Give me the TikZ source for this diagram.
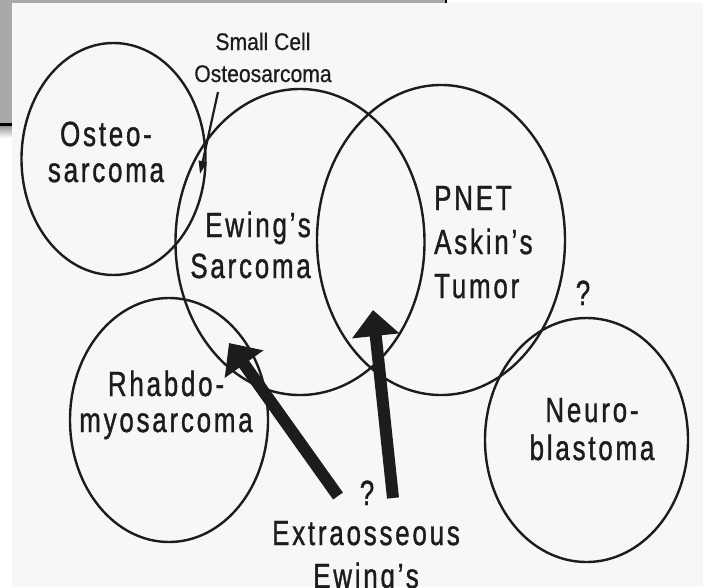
\documentclass[tikz,border=0pt]{standalone}
\usepackage{fontspec}
\usetikzlibrary{shapes.geometric, arrows.meta, positioning}
\newfontfamily\tumourfont{Liberation Sans}[FakeStretch=0.74, LetterSpace=8, FakeBold=1]
\newfontfamily\notefont{Liberation Sans}[FakeStretch=0.88, FakeBold=0.6]
\definecolor{photo}{HTML}{F5F7F8}
\definecolor{slidegray}{HTML}{A9A9A9}
\definecolor{ink}{HTML}{1C1C1C}
\tikzstyle{tumour} = [ellipse, draw=ink, line width=2.4pt, inner sep=0pt]
\tikzstyle{tumourtext} = [font=\tumourfont\fontsize{35}{38}\selectfont, text=ink, inner sep=0pt, anchor=base]
\tikzstyle{notetext} = [font=\notefont\fontsize{24}{32}\selectfont, text=ink, inner sep=0pt, anchor=base, align=center]
\tikzstyle{line} = [draw=ink, line width=12pt, -{Triangle[length=26pt, width=46pt]}]
\tikzstyle{thinline} = [draw=ink, line width=2.2pt, -{Triangle[length=13pt, width=8pt]}]

\begin{document}
\begin{tikzpicture}[x=1pt, y=-1pt]
\useasboundingbox (0,0) rectangle (703,587);
\clip (0,0) rectangle (703,587);

% Slide behind the scan
\fill[white] (0,0) rectangle (703,587);
\fill[slidegray] (0,0) rectangle (447,125);
\draw[black, line width=3pt] (0,124.5) -- (447,124.5);
\draw[black, line width=1.5pt] (446,0) -- (446,125);
\shade[top color=gray!80, bottom color=white] (0,126) rectangle (12,138);
\fill[photo] (12,3) rectangle (703,587);

% Tumours
\node (osteo) [tumour, minimum width=184pt, minimum height=232pt] at (113.5,159) {};
\node (ewing) [tumour, minimum width=249pt, minimum height=306pt] at (300,242) {};
\node (pnet) [tumour, minimum width=248pt, minimum height=310pt] at (441,240) {};
\node (rhabdo) [tumour, minimum width=198pt, minimum height=244pt] at (169,420) {};
\node (neuro) [tumour, minimum width=203pt, minimum height=244pt] at (586.5,440) {};

% Texts (base = last line)
\node (osteotext) [tumourtext, align=center, font=\tumourfont\fontsize{35}{36}\selectfont] at (106,182) {Osteo-\\sarcoma};
\node (smallcell) [notetext] at (263,82) {Small Cell\\Osteosarcoma};
\node (ewingtext) [tumourtext, align=right, anchor=base east, font=\tumourfont\fontsize{35}{41}\selectfont] at (311,278) {Ewing’s\\Sarcoma};
\node (pnettext) [tumourtext, align=left, anchor=base west, font=\tumourfont\fontsize{35}{44}\selectfont] at (434,298) {PNET\\Askin’s\\Tumor};
\node (pnetq) [tumourtext] at (583,305) {?};
\node (rhabdotext) [tumourtext, align=center, font=\tumourfont\fontsize{35}{36}\selectfont] at (166,432) {Rhabdo-\\myosarcoma};
\node (neurotext) [tumourtext, align=center] at (592,460) {Neuro-\\blastoma};
\node (extraq) [tumourtext] at (367,505) {?};
\node (extratext) [tumourtext, align=center, font=\tumourfont\fontsize{35}{43}\selectfont] at (366,588) {Extraosseous\\Ewing’s};

% Arrows
\coordinate (smalltail) at (218,92);
\coordinate (smalltip) at (200,174);
\coordinate (lefttail) at (338,496);
\coordinate (lefttip) at (229,343);
\coordinate (righttail) at (393,498);
\coordinate (righttip) at (373,310);

\draw [thinline] (smalltail) -- (smalltip);
\draw [line] (lefttail) -- (lefttip);
\draw [line] (righttail) -- (righttip);

\end{tikzpicture}
\end{document}
